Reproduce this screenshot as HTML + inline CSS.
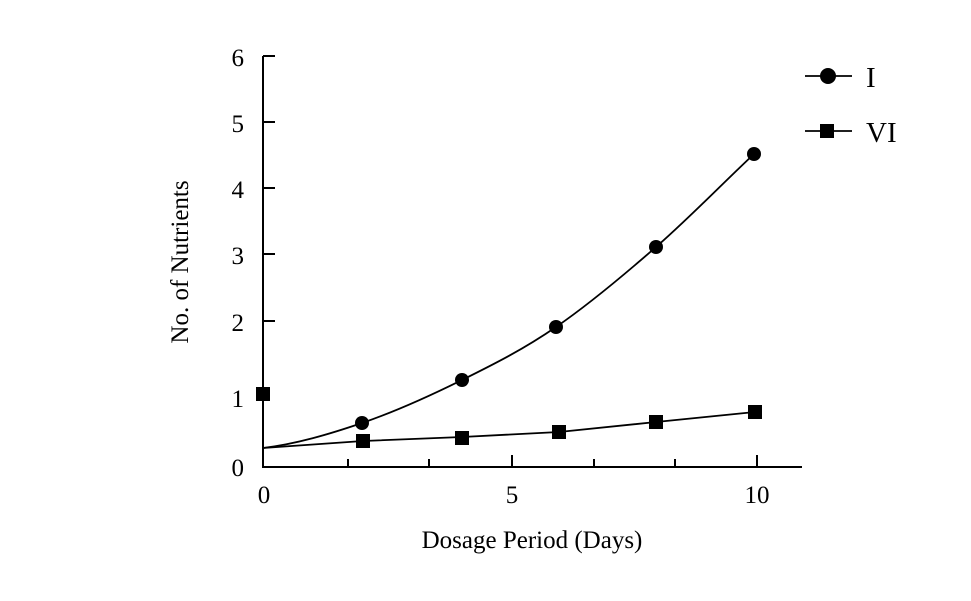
<!DOCTYPE html>
<html><head><style>body{margin:0;background:#fff}svg{display:block}</style></head><body>
<svg width="971" height="601" xmlns="http://www.w3.org/2000/svg" font-family="Liberation Serif, serif" fill="#000">
<g stroke="#000" stroke-width="2" fill="none">
<path d="M263,56V467H802"/>
<path d="M263,56H275M263,122H275M263,188H275M263,254H275M263,321H275"/>
<path d="M348,467V459M429,467V459M512,467V455M594,467V459M675,467V459M757,467V455"/>
<path d="M263,448 C296,444 329,434.3 362,423 C395,411.7 429.7,396 462,380 C494.3,364 523.7,349.2 556,327 C588.3,304.8 623,275.8 656,247 C689,218.2 721,185 754,154" stroke-width="1.8"/>
<path d="M263,448 L363,441 L462,437 L559,432 L656,422 L755,412" stroke-width="1.8"/>
<path d="M805,76H852M805,131H852" stroke-width="1.8"/>
</g>
<g>
<circle cx="362" cy="423" r="7"/><circle cx="462" cy="380" r="7"/><circle cx="556" cy="327" r="7"/><circle cx="656" cy="247" r="7"/><circle cx="754" cy="154" r="7"/>
<circle cx="828" cy="76" r="8"/>
<rect x="256" y="387" width="14" height="14"/>
<rect x="356" y="434" width="14" height="14"/><rect x="455" y="431" width="14" height="14"/><rect x="552" y="425" width="14" height="14"/><rect x="649" y="415" width="14" height="14"/><rect x="748" y="405" width="14" height="14"/>
<rect x="820" y="124" width="14" height="14"/>
</g>
<g font-size="25" text-anchor="end">
<text x="244" y="66">6</text><text x="244" y="132">5</text><text x="244" y="198">4</text><text x="244" y="264">3</text><text x="244" y="331">2</text><text x="244" y="407">1</text><text x="244" y="476">0</text>
</g>
<g font-size="25" text-anchor="middle">
<text x="264" y="503">0</text><text x="512" y="503">5</text><text x="757" y="503">10</text>
</g>
<text x="532" y="548" font-size="25" text-anchor="middle">Dosage Period (Days)</text>
<text transform="translate(188,262) rotate(-90)" font-size="25" text-anchor="middle">No. of Nutrients</text>
<text x="866" y="87" font-size="29">I</text>
<text x="866" y="142" font-size="29">VI</text>
</svg>
</body></html>
